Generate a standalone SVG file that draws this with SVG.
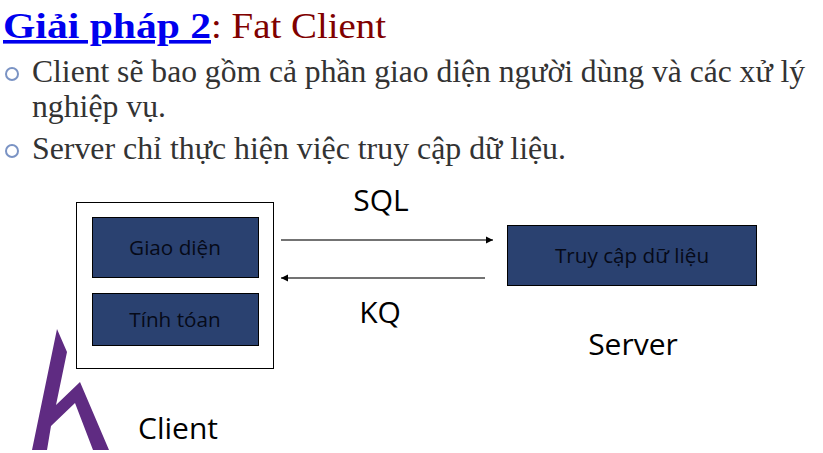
<svg xmlns="http://www.w3.org/2000/svg" width="823" height="453" viewBox="0 0 823 453">
<defs>
<marker id="arrow" markerUnits="userSpaceOnUse" markerWidth="8" markerHeight="8" refX="7" refY="4" orient="auto"><path d="M0,0.5 L7,4 L0,7.5 Z" fill="#000"/></marker>
</defs>
<style>
.body{font-family:"Liberation Serif",serif;font-size:31px;fill:#333}
.bullet{fill:#fff;stroke:#7a93c4;stroke-width:2}
.box{fill:#2a4170;stroke:#000;stroke-width:1}
.boxt{font-family:"Open Sans","Noto Sans",sans-serif;font-size:20.7px;fill:#060a18;text-anchor:middle}
.lab{font-family:"Open Sans","Noto Sans",sans-serif;font-size:30px;fill:#000;text-anchor:middle}
.conn{stroke:#444;stroke-width:1.5;fill:none;marker-end:url(#arrow)}
</style>
<rect width="823" height="453" fill="#fff"/>
<text x="3" y="38" font-family="Liberation Serif,serif" font-size="36" font-weight="bold" fill="#0000ee" text-decoration="underline" textLength="208" lengthAdjust="spacingAndGlyphs">Giải pháp 2</text>
<text x="211" y="38" font-family="Liberation Serif,serif" font-size="36" fill="#800000" textLength="175" lengthAdjust="spacingAndGlyphs">: Fat Client</text>
<circle class="bullet" cx="12" cy="74" r="6"/>
<text class="body" x="32" y="82" textLength="773" lengthAdjust="spacingAndGlyphs">Client sẽ bao gồm cả phần giao diện người dùng và các xử lý</text>
<text class="body" x="32" y="117" textLength="134" lengthAdjust="spacingAndGlyphs">nghiệp vụ.</text>
<circle class="bullet" cx="12" cy="151" r="6"/>
<text class="body" x="32" y="159" textLength="534" lengthAdjust="spacingAndGlyphs">Server chỉ thực hiện việc truy cập dữ liệu.</text>
<g id="client-box"><rect x="76.5" y="202.5" width="197" height="166" fill="#fff" stroke="#000"/></g>
<g id="giao-dien"><rect class="box" x="92.5" y="217.5" width="166" height="60"/><text class="boxt" x="175" y="255">Giao diện</text></g>
<g id="tinh-toan"><rect class="box" x="92.5" y="293.5" width="166" height="52"/><text class="boxt" x="175" y="327">Tính tóan</text></g>
<g id="truy-cap"><rect class="box" x="507.5" y="225.5" width="249" height="60"/><text class="boxt" x="632" y="263">Truy cập dữ liệu</text></g>
<g id="connectors">
<line class="conn" x1="281" y1="240" x2="493" y2="240"/>
<line class="conn" x1="485" y1="278" x2="281" y2="278"/>
</g>
<g id="logo"><polygon points="57,329 67,352 56,405 80,382 109,450 93,450 75,403 51,426 47,450 32,450" fill="#5f2b82"/></g>
<text class="lab" x="381" y="211">SQL</text>
<text class="lab" x="380" y="323">KQ</text>
<text class="lab" x="633" y="355">Server</text>
<text class="lab" x="178" y="439">Client</text>
</svg>
